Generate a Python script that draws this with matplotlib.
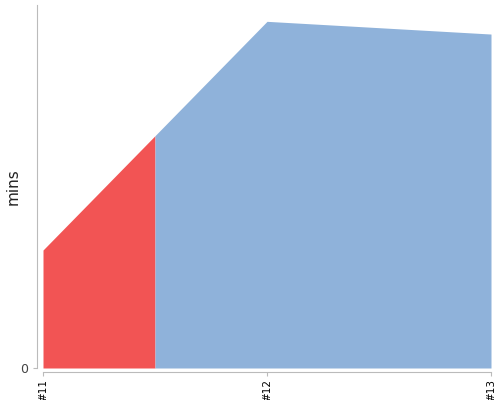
import numpy as np
import matplotlib
matplotlib.use('Agg')
import matplotlib.pyplot as plt

builds = ['#11', '#12', '#13']
durations = [3.25, 9.55, 9.2]   # mins
failed = [True, False, False]

red = '#f25454'
blue = '#8fb2da'

fig = plt.figure(figsize=(5, 4), dpi=100)
ax = fig.add_axes([0.086, 0.08, 0.896, 0.9075])

x = np.arange(len(builds))
y = np.array(durations)
n = len(builds)

# each build colours the area from half way before it to half way after it;
# neighbouring builds with the same state are merged into one patch
i = 0
while i < n:
    j = i
    while j + 1 < n and failed[j + 1] == failed[i]:
        j += 1
    lo = max(i - 0.5, 0)
    hi = min(j + 0.5, n - 1)
    xs = np.array([lo] + [v for v in x if lo < v < hi] + [hi])
    ys = np.interp(xs, x, y)
    ax.fill_between(xs, 0, ys, color=red if failed[i] else blue, lw=0)
    i = j + 1

ax.set_xlim(0, n - 1)
ax.set_ylim(0, 10)
ax.set_xticks(x)
ax.set_xticklabels(builds)
ax.set_yticks([0])
ax.tick_params(axis='y', length=3, color='#bbbbbb', labelsize=9, labelcolor='#444444')
ax.tick_params(axis='x', length=3, color='#bbbbbb', pad=2, labelsize=7.5, labelrotation=90)
ax.set_ylabel('mins', fontsize=11, color='#222222', labelpad=0)

for s in ['top', 'right']:
    ax.spines[s].set_visible(False)
ax.spines['left'].set_position(('outward', 4))
ax.spines['bottom'].set_position(('outward', 3))
ax.spines['left'].set_color('#bbbbbb')
ax.spines['bottom'].set_color('#bbbbbb')

fig.savefig('out.png')
